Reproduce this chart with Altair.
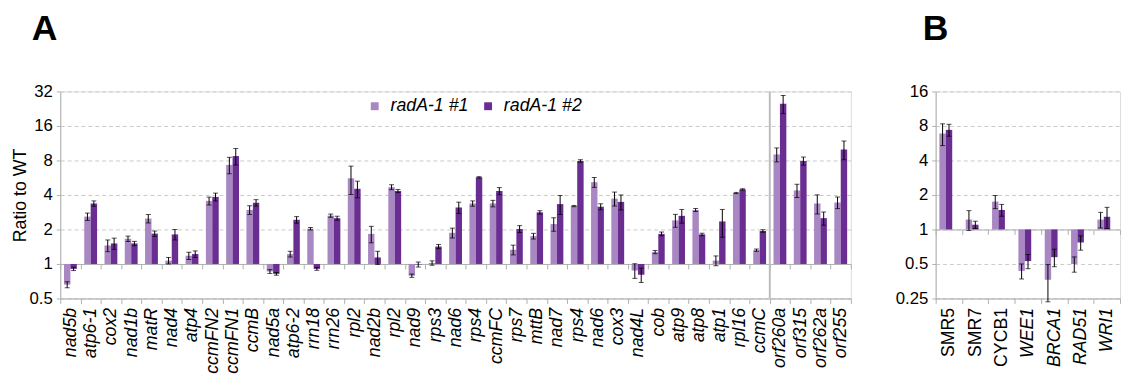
import altair as alt
import pandas as pd

series = ["radA-1 #1", "radA-1 #2"]
colors = ["#A887C2", "#6A2D91"]

genes_a = ["nad5b", "atp6-1", "cox2", "nad1b", "matR", "nad4", "atp4", "ccmFN2", "ccmFN1", "ccmB",
           "nad5a", "atp6-2", "rrn18", "rrn26", "rpl2", "nad2b", "rpl2", "nad9", "rps3", "nad6",
           "rps4", "ccmFC", "rps7", "mttB", "nad7", "rps4", "nad6", "cox3", "nad4L", "cob",
           "atp9", "atp8", "atp1", "rpl16", "ccmC", "orf260a", "orf315", "orf262a", "orf255"]
mean1_a = [0.66, 2.59, 1.45, 1.66, 2.49, 1.07, 1.18, 3.55, 7.32, 2.96,
           0.86, 1.22, 2.03, 2.64, 5.59, 1.83, 4.68, 0.79, 1.02, 1.87,
           3.37, 3.37, 1.33, 1.75, 2.23, 3.2, 5.17, 3.72, 0.877, 1.27,
           2.4, 2.96, 1.07, 4.16, 1.32, 9.03, 4.38, 3.37, 3.44]
err1_a = [0.04, 0.19, 0.17, 0.09, 0.21, 0.07, 0.085, 0.28, 1.2, 0.26,
          0.033, 0.07, 0.05, 0.085, 1.55, 0.3, 0.23, 0.026, 0.045, 0.185,
          0.18, 0.22, 0.13, 0.1, 0.3, 0.04, 0.51, 0.52, 0.128, 0.042,
          0.31, 0.09, 0.105, 0.05, 0.03, 1.26, 0.58, 0.64, 0.4]
mean2_a = [0.906, 3.37, 1.51, 1.51, 1.84, 1.81, 1.22, 3.85, 8.74, 3.42,
           0.82, 2.43, 0.906, 2.51, 4.53, 1.14, 4.33, 0.99, 1.42, 3.11,
           5.7, 4.33, 2.02, 2.82, 3.33, 7.92, 3.16, 3.48, 0.805, 1.83,
           2.63, 1.81, 2.35, 4.47, 1.94, 25.0, 7.92, 2.51, 9.97]
err2_a = [0.03, 0.18, 0.17, 0.065, 0.1, 0.19, 0.08, 0.3, 1.44, 0.22,
          0.022, 0.16, 0.025, 0.1, 0.75, 0.15, 0.14, 0.05, 0.06, 0.35,
          0.075, 0.31, 0.14, 0.095, 0.63, 0.2, 0.19, 0.52, 0.115, 0.07,
          0.36, 0.045, 0.64, 0.06, 0.05, 4.5, 0.65, 0.33, 1.85]

genes_b = ["SMR5", "SMR7", "CYCB1", "WEE1", "BRCA1", "RAD51", "WRI1"]
mean1_b = [6.87, 1.22, 1.75, 0.435, 0.364, 0.5, 1.22]
err1_b = [1.48, 0.24, 0.23, 0.065, 0.13, 0.076, 0.19]
mean2_b = [7.39, 1.10, 1.48, 0.53, 0.573, 0.77, 1.29]
err2_b = [0.88, 0.08, 0.175, 0.075, 0.1, 0.11, 0.27]

ticks_a = [0.5, 1, 2, 4, 8, 16, 32]
ticks_b = [0.25, 0.5, 1, 2, 4, 8, 16]

FONT = "Liberation Sans"
GRID = "#c9c9c9"
AXC = "#b0b0b0"


def make_df(genes, m1, e1, m2, e2, unique):
    rows = []
    keys = []
    for i, g in enumerate(genes):
        k = f"{g}|{i}" if unique else g
        keys.append(k)
        for s, m, e in ((series[0], m1[i], e1[i]), (series[1], m2[i], e2[i])):
            rows.append({"key": k, "series": s, "mean": m, "lo": m - e, "hi": m + e, "base": 1.0})
    return pd.DataFrame(rows), keys


def panel(df, keys, domain, ticks, width, one_offset, title, title_dx, xoff_pad,
          label_expr=None, italic_cond=None, ytitle=None, legend=None, sep_key=None):
    yscale = alt.Scale(type="log", base=2, domain=domain, nice=False)
    xscale = alt.Scale(paddingInner=0, paddingOuter=0)
    xo = alt.XOffset("series:N", sort=series, scale=alt.Scale(paddingOuter=xoff_pad, paddingInner=0))

    axis_kw = dict(title=None, labelAngle=270, labelFontSize=18, labelColor="black",
                   labelFont=FONT, tickBand="extent", tickSize=5, tickColor=AXC,
                   domainColor=AXC, labelPadding=4, grid=False)
    if label_expr:
        axis_kw["labelExpr"] = label_expr
    if italic_cond:
        axis_kw["labelFontStyle"] = alt.condition(italic_cond, alt.value("normal"), alt.value("italic"))
    else:
        axis_kw["labelFontStyle"] = "italic"

    yaxis_kw = dict(values=ticks, format="~g", titleFontSize=18, titleFont=FONT,
                    titleFontWeight="normal", titleColor="black", titlePadding=0,
                    labelFontSize=17, labelFont=FONT, labelColor="black", labelPadding=4,
                    tickSize=4, tickColor=AXC, domainColor=AXC, gridColor=GRID,
                    gridDash=[4, 3], gridWidth=1)
    yaxis_kw["title"] = ytitle if ytitle else None
    yaxis = alt.Axis(**yaxis_kw)

    bars = alt.Chart(df).mark_bar().encode(
        x=alt.X("key:N", sort=keys, scale=xscale, axis=alt.Axis(**axis_kw)),
        xOffset=xo,
        y=alt.Y("mean:Q", scale=yscale, axis=yaxis),
        y2="base:Q",
        color=alt.Color("series:N", sort=series,
                        scale=alt.Scale(domain=series, range=colors),
                        legend=legend),
    )
    axis1 = alt.Chart(df).mark_tick(opacity=0).encode(
        x=alt.X("key:N", sort=keys, scale=xscale,
                axis=alt.Axis(orient="bottom", offset=-one_offset, labels=False, title=None,
                              tickBand="extent", tickSize=5, tickColor=AXC, domainColor=AXC,
                              grid=False)),
        y=alt.Y("base:Q", scale=yscale, axis=yaxis),
    )
    errs = alt.Chart(df).mark_rule(color="black", strokeWidth=1).encode(
        x=alt.X("key:N", sort=keys, scale=xscale, axis=None),
        xOffset=xo,
        y=alt.Y("lo:Q", scale=yscale, axis=yaxis),
        y2="hi:Q",
    )
    cap_hi = alt.Chart(df).mark_tick(color="black", thickness=1, size=5).encode(
        x=alt.X("key:N", sort=keys, scale=xscale, axis=None),
        xOffset=xo,
        y=alt.Y("hi:Q", scale=yscale, axis=yaxis),
    )
    cap_lo = alt.Chart(df).mark_tick(color="black", thickness=1, size=5).encode(
        x=alt.X("key:N", sort=keys, scale=xscale, axis=None),
        xOffset=xo,
        y=alt.Y("lo:Q", scale=yscale, axis=yaxis),
    )
    layers = [bars, axis1, errs, cap_hi, cap_lo]
    if sep_key is not None:
        sep_df = pd.DataFrame({"key": [sep_key], "y1": [domain[0]], "y2": [domain[1]]})
        sep = alt.Chart(sep_df).mark_rule(color="#bdbdbd", strokeWidth=2).encode(
            x=alt.X("key:N", sort=keys, scale=xscale, bandPosition=0, axis=None),
            y=alt.Y("y1:Q", scale=yscale, axis=yaxis),
            y2="y2:Q",
        )
        layers.insert(1, sep)
    return alt.layer(*layers).resolve_axis(x="independent").properties(
        width=width, height=210,
        title=alt.TitleParams(title, anchor="start", frame="group", dx=title_dx, dy=-5,
                              fontSize=36, fontWeight="bold", font=FONT, color="black",
                              offset=30),
    )


df_a, keys_a = make_df(genes_a, mean1_a, err1_a, mean2_a, err2_a, True)
df_b, keys_b = make_df(genes_b, mean1_b, err1_b, mean2_b, err2_b, False)

legend_a = alt.Legend(orient="none", legendX=310, legendY=6, direction="horizontal", title=None,
                      symbolType="square", symbolSize=64, symbolStrokeWidth=0,
                      labelFontSize=18, labelFontStyle="italic", labelFont=FONT, labelColor="black",
                      columnPadding=10, labelOffset=7)

left = panel(df_a, keys_a, [0.5, 32], ticks_a, 802, 35, "A", -29, 0.58,
             label_expr="datum.value ? split(datum.value, '|')[0] : ''", ytitle="Ratio to WT",
             legend=legend_a, sep_key=keys_a[35])
right = panel(df_b, keys_b, [0.25, 16], ticks_b, 187, 70, "B", -13, 0.65,
              italic_cond="indexof(['SMR5','SMR7','CYCB1'], datum.value) >= 0",
              legend=None)

chart = alt.hconcat(left, right, spacing=43).resolve_scale(
    color="independent", x="independent", y="independent"
).properties(
    padding={"left": 2, "top": 0, "right": 0, "bottom": 0}
).configure_view(stroke=None).configure(font=FONT)

chart.save("out.html", embed_options={"renderer": "svg", "actions": False})
